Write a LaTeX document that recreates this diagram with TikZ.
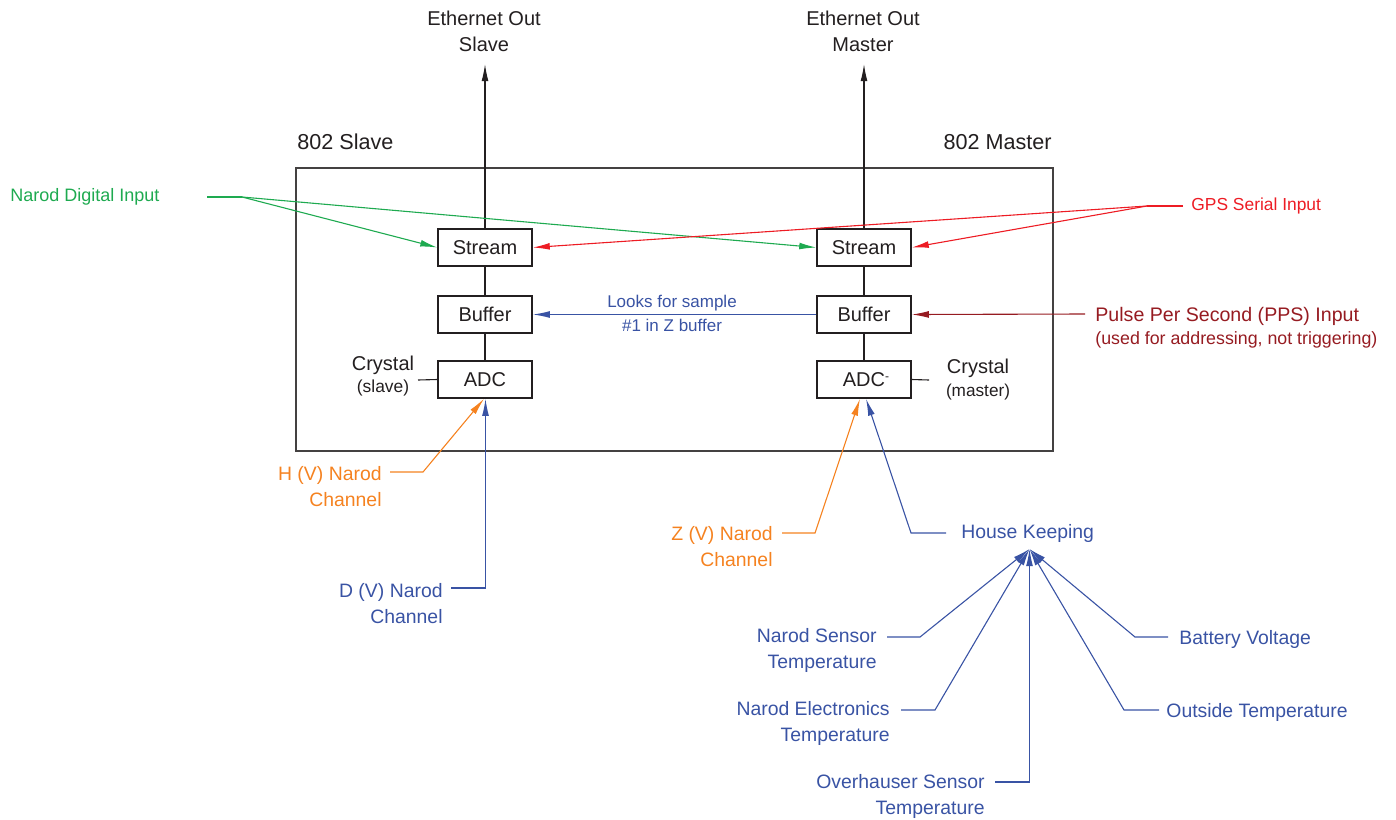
\documentclass[tikz,border=0pt]{standalone}
\usepackage{fontspec}
\setmainfont{Liberation Sans}
\usetikzlibrary{arrows.meta}
\definecolor{ink}{RGB}{35,31,32}
\definecolor{cgreen}{RGB}{30,170,80}
\definecolor{cred}{RGB}{237,28,36}
\definecolor{cdred}{RGB}{150,27,33}
\definecolor{cblue}{RGB}{57,83,164}
\definecolor{corange}{RGB}{245,130,32}
\newcommand{\fsz}[2]{\fontsize{#1}{#2}\selectfont}
\begin{document}
\begin{tikzpicture}[x=0.5pt,y=-0.5pt,
  block/.style={draw=ink, line width=0.75pt, fill=white, minimum width=47pt, minimum height=18.5pt, inner sep=0pt, text=ink, font=\fsz{10}{12}},
  frame/.style={draw=ink!85, line width=0.75pt, minimum width=378.5pt, minimum height=141.5pt, inner sep=0pt},
  lbl/.style={inner sep=0pt, text=ink},
  conn/.style={line width=0.55pt},
  tip/.style={-{Latex[length=8.5pt,width=3.4pt]}},
  clbl/.style={inner sep=0pt, font=\fsz{9.7}{13}}
]
\useasboundingbox (0,0) rectangle (1396,819);

% device frame
\node[frame] (dev) at (674.5,309.5) {};

% blocks
\node[block] (streamS) at (485,247.5) {Stream};
\node[block] (bufS) at (485,314.5) {Buffer};
\node[block] (adcS) at (485,379.5) {ADC};
\node[block] (streamM) at (864,247.5) {Stream};
\node[block] (bufM) at (864,314.5) {Buffer};
\node[block] (adcM) at (864,379.5) {ADC\rlap{\raisebox{3pt}{\fsz{6}{6}-}}};

% internal links
\draw[conn,draw=ink] (streamS.south) -- (bufS.north);
\draw[conn,draw=ink] (bufS.south) -- (adcS.north);
\draw[conn,draw=ink] (streamM.south) -- (bufM.north);
\draw[conn,draw=ink] (bufM.south) -- (adcM.north);

% titles
\node[lbl,anchor=west,font=\fsz{10.8}{12}] (slaveT) at (297,142) {802 Slave};
\node[lbl,anchor=east,font=\fsz{10.8}{12}] (masterT) at (1052,142) {802 Master};

% ethernet
\node[lbl,align=center,font=\fsz{10}{13}] (ethS) at (484,31) {Ethernet Out\\Slave};
\node[lbl,align=center,font=\fsz{10}{13}] (ethM) at (863,31) {Ethernet Out\\Master};
\coordinate (ethSt) at (485,64);
\coordinate (ethMt) at (864,64);
\draw[conn,ink,tip] (streamS.north) -- (ethSt);
\draw[conn,ink,tip] (streamM.north) -- (ethMt);

% Narod digital input
\node[lbl,text=cgreen,anchor=west,font=\fsz{9}{10}] (ndi) at (10,197) {Narod Digital Input};
\coordinate (ndA) at (207,197);
\coordinate (ndB) at (242,197);
\draw[conn,cgreen] (ndA) -- (ndB);
\draw[conn,cgreen,tip] (ndB) -- (streamS.west);
\draw[conn,cgreen,tip] (ndB) -- (streamM.west);

% GPS
\node[lbl,text=cred,anchor=west,font=\fsz{8.7}{10}] (gps) at (1191,206) {GPS Serial Input};
\coordinate (gpA) at (1183,206);
\coordinate (gpB) at (1147,206);
\draw[conn,cred] (gpA) -- (gpB);
\draw[conn,cred,tip] (gpB) -- (streamS.east);
\draw[conn,cred,tip] (gpB) -- (streamM.east);

% PPS
\node[lbl,text=cdred,anchor=west,font=\fsz{9.8}{12}] (pps) at (1095,316) {Pulse Per Second (PPS) Input};
\node[lbl,text=cdred,anchor=west,font=\fsz{8.9}{11}] (ppsn) at (1095,340) {(used for addressing, not triggering)};
\coordinate (ppA) at (1085,314);
\draw[conn,cdred,tip] (ppA) -- (bufM.east);

% buffer link
\draw[conn,cblue,tip] (bufM.west) -- (bufS.east);
\node[lbl,text=cblue,align=center,font=\fsz{8.5}{12}] (look) at (672,313) {Looks for sample\\\#1 in Z buffer};

% crystals
\node[lbl,font=\fsz{10}{12}] (crS) at (383,365) {Crystal};
\node[lbl,font=\fsz{8.7}{10}] (crSn) at (383,388) {(slave)};
\coordinate (crSc) at (418,380);
\draw[conn,ink] (adcS.west) -- (crSc);
\node[lbl,font=\fsz{10}{12}] (crM) at (978,368) {Crystal};
\node[lbl,font=\fsz{8.6}{10}] (crMn) at (978,392) {(master)};
\coordinate (crMc) at (929,380);
\draw[conn,ink] (adcM.east) -- (crMc);

% channels
\node[clbl,text=corange,align=right,anchor=east] (hch) at (382,487) {H (V) Narod\\Channel};
\coordinate (hA) at (390,472);
\coordinate (hB) at (423,472);
\draw[conn,corange,tip] (hA) -- (hB) -- ([xshift=-0.5pt]adcS.south);

\node[clbl,text=cblue,align=right,anchor=east] (dch) at (443,604) {D (V) Narod\\Channel};
\coordinate (dA) at (451,588);
\coordinate (dB) at (485.5,588);
\draw[conn,cblue,tip] (dA) -- (dB) -- ([xshift=0.25pt]adcS.south);

\node[clbl,text=corange,align=right,anchor=east] (zch) at (773,547) {Z (V) Narod\\Channel};
\coordinate (zA) at (782,533);
\coordinate (zB) at (815,533);
\draw[conn,corange,tip] (zA) -- (zB) -- ([xshift=-2pt]adcM.south);

\node[clbl,text=cblue,anchor=west] (hk) at (961,533) {House Keeping};
\coordinate (kA) at (946,533);
\coordinate (kB) at (911,533);
\draw[conn,cblue,tip] (kA) -- (kB) -- ([xshift=1pt]adcM.south);

% housekeeping inputs
\coordinate (hkT) at (1029.5,549);
\node[clbl,text=cblue,align=right,anchor=east] (ns) at (877,650) {Narod Sensor\\Temperature};
\node[clbl,text=cblue,align=right,anchor=east] (ne) at (890,723) {Narod Electronics\\Temperature};
\node[clbl,text=cblue,align=right,anchor=east] (ov) at (985,796) {Overhauser Sensor\\Temperature};
\node[clbl,text=cblue,anchor=west] (bv) at (1179,639) {Battery Voltage};
\node[clbl,text=cblue,anchor=west] (ot) at (1166,712) {Outside Temperature};
\coordinate (nsA) at (887,637); \coordinate (nsB) at (920,637);
\coordinate (neA) at (901,710); \coordinate (neB) at (935,710);
\coordinate (ovA) at (995,782); \coordinate (ovB) at (1029.5,782);
\coordinate (bvA) at (1168,637); \coordinate (bvB) at (1135,637);
\coordinate (otA) at (1159,710); \coordinate (otB) at (1124,710);
\draw[conn,cblue,tip] (nsA) -- (nsB) -- (hkT);
\draw[conn,cblue,tip] (neA) -- (neB) -- (hkT);
\draw[conn,cblue,tip] (ovA) -- (ovB) -- (hkT);
\draw[conn,cblue,tip] (bvA) -- (bvB) -- (hkT);
\draw[conn,cblue,tip] (otA) -- (otB) -- (hkT);
\end{tikzpicture}
\end{document}
